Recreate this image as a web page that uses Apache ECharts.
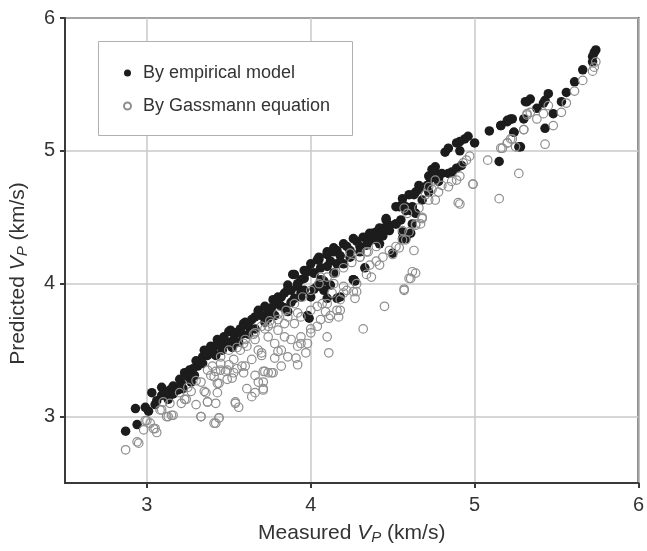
<!DOCTYPE html>
<html>
<head>
<meta charset="utf-8">
<script src="https://cdn.jsdelivr.net/npm/echarts@6/dist/echarts.min.js"></script>
<style>
html,body{margin:0;padding:0;background:#fff;}
#chart{width:647px;height:551px;}
</style>
</head>
<body>
<div id="chart"></div>
<script>
// Filled black circles: predicted by empirical model [measured, predicted]
const empiricalPoints = [
[2.87,2.89],[2.94,2.94],[2.93,3.06],[2.99,3.07],[3.01,3.04],[3.05,3.09],[3.03,3.18],[3.09,3.22],[3.09,3.16],[3.13,3.13],[3.14,3.20],[3.16,3.23],[3.21,3.25],[3.23,3.33],[3.27,3.26],[3.26,3.35],[3.31,3.38],[3.33,3.40],[3.37,3.48],[3.42,3.46],[3.44,3.54],[3.50,3.56],[3.29,3.31],[3.19,3.20],
[3.35,3.50],[3.39,3.53],[3.43,3.58],[3.51,3.65],[3.55,3.63],[3.60,3.71],[3.68,3.80],[3.72,3.83],[3.77,3.88],[3.82,3.90],[3.86,3.99],[3.89,4.07],[3.92,3.98],[3.96,4.04],[3.98,4.09],[4.02,4.08],[4.05,4.18],[4.10,4.22],[4.14,4.24],[4.10,4.13],[4.16,4.15],[4.00,3.90],[4.10,3.89],[3.98,3.76],[3.82,3.83],[3.86,3.79],[3.74,3.74],[3.64,3.73],[3.57,3.66],[3.53,3.58],[3.45,3.53],[3.37,3.46],[3.34,3.40],[3.47,3.60],[3.80,3.86],[3.90,3.89],[3.94,3.93],[4.04,3.98],
[3.96,4.10],[4.00,4.15],[4.05,4.20],[4.10,4.24],[4.14,4.27],[4.20,4.30],[4.26,4.34],[4.32,4.35],[4.36,4.38],[4.42,4.42],[4.46,4.48],[4.48,4.44],[4.52,4.45],[4.45,4.42],[4.40,4.39],[4.52,4.58],[4.56,4.60],[4.60,4.67],[4.64,4.69],[4.66,4.74],[4.72,4.81],[4.76,4.83],[4.58,4.34],[4.56,4.39],[4.26,4.03],[4.18,3.90],[3.96,3.95],[4.06,4.03],[4.02,4.08],[4.61,4.55],[4.64,4.53],
[4.82,4.99],[4.84,5.02],[4.89,5.06],[4.91,5.07],[4.94,5.09],[4.96,5.11],[5.00,5.06],[4.91,5.00],[4.74,4.86],[4.76,4.88],[4.73,4.79],[4.78,4.79],[4.80,4.83],[4.84,4.83],[4.86,4.84],[4.89,4.87],[4.92,4.89],[4.66,4.71],[4.63,4.67],[4.71,4.74],[4.72,4.69],[4.78,4.77],[5.09,5.15],[5.16,5.19],[5.20,5.22],[5.23,5.24],[5.24,5.14],[5.28,5.03],[5.15,4.92],[4.56,4.64],[4.58,4.58],[4.55,4.48],[4.57,4.34],[4.62,4.58],[4.68,4.63],[4.62,4.45],
[5.74,5.76],[5.73,5.74],[5.72,5.71],[5.72,5.67],[5.66,5.61],[5.61,5.52],[5.56,5.44],[5.53,5.37],[5.45,5.43],[5.43,5.38],[5.42,5.36],[5.38,5.32],[5.48,5.28],[5.43,5.17],[5.34,5.39],[5.32,5.37],[5.31,5.37],[5.30,5.24],[5.24,5.14],[5.27,5.03],[5.22,5.24],[5.20,5.23],[5.16,5.19],
[3.37,3.49],[3.43,3.55],[3.50,3.64],[3.53,3.63],[3.59,3.70],[3.68,3.79],[3.74,3.80],[3.80,3.90],[3.81,3.84],[3.86,3.96],[3.90,4.07],[3.94,4.03],[3.98,4.10],[4.04,4.18],[4.10,4.22],[4.16,4.25],[4.22,4.28],[4.28,4.32],[4.34,4.35],[4.38,4.38],[4.44,4.39],[4.46,4.49],[4.52,4.45],[4.54,4.58],[4.58,4.55],[4.16,3.89],[4.26,4.03],[4.33,4.12],[3.99,3.74],[4.08,3.95],[4.12,3.99],[4.42,4.30],[4.50,4.23],[4.57,4.34],
[4.27,4.02],[4.56,4.34],[4.61,4.38],
[3.62,3.68],[3.66,3.75],[3.70,3.76],[3.76,3.82],[3.84,3.93],[3.88,3.95],[3.92,4.00],[4.06,4.12],[4.12,4.17],[4.18,4.21],[4.24,4.25],[4.30,4.28],[4.36,4.32],[3.58,3.62],[3.48,3.55],[3.40,3.50],[3.30,3.42],[3.25,3.30],[3.20,3.28],[3.11,3.18],[3.06,3.12],
[3.52,3.52],[3.56,3.56],[3.62,3.62],[3.66,3.66],[3.72,3.71],[3.78,3.76],[3.84,3.82],[3.88,3.86],[3.94,3.90],[4.02,3.96],[4.08,4.02],[4.14,4.08],[4.20,4.15],[4.24,4.20],[4.30,4.24],[4.34,4.29],[4.40,4.33],[4.44,4.36],[4.48,4.40],[3.28,3.36],[3.34,3.45],[3.46,3.50],[3.16,3.17],[3.22,3.21]
];
// Open grey circles: predicted by Gassmann equation [measured, predicted]
const gassmannPoints = [
[2.87,2.75],[2.94,2.81],[2.95,2.80],[2.99,2.97],[3.02,2.95],[2.98,2.90],[3.05,2.91],[3.06,2.88],[3.09,3.05],[3.13,3.00],[3.16,3.01],[3.14,3.10],[3.10,3.11],[3.21,3.10],[3.24,3.13],[3.27,3.19],[3.30,3.09],[3.33,3.00],[3.36,3.18],[3.37,3.11],[3.42,3.10],[3.43,3.18],[3.44,3.25],[3.44,2.99],[3.42,2.95],[3.33,3.26],[3.39,3.31],[3.42,3.34],[3.48,3.34],[3.50,3.39],[3.53,3.33],[3.55,3.36],[3.54,3.10],[3.56,3.07],
[3.41,3.30],[3.49,3.35],[3.60,3.38],[3.64,3.43],[3.70,3.46],[3.72,3.34],[3.78,3.44],[3.82,3.50],[3.86,3.45],[3.88,3.58],[3.92,3.53],[3.94,3.60],[3.97,3.48],[3.92,3.39],[3.82,3.38],[4.00,3.66],[4.04,3.68],[4.06,3.73],[4.09,3.79],[4.11,3.74],[4.16,3.80],[4.10,3.60],[4.11,3.48],[3.66,3.58],[3.74,3.60],[3.80,3.65],[3.57,3.50],[3.61,3.53],[3.68,3.50],[3.84,3.70],[3.90,3.70],[3.94,3.75],[3.76,3.70],[3.72,3.66],[4.04,3.83],[4.13,3.93],[3.45,3.40],[3.53,3.43],[3.37,3.35],[3.74,3.33],
[4.24,4.23],[4.30,4.20],[4.34,4.24],[4.36,4.14],[4.40,4.17],[4.44,4.20],[4.48,4.25],[4.52,4.28],[4.56,4.33],[4.60,4.39],[4.64,4.44],[4.68,4.50],[4.62,4.09],[4.60,4.04],[4.57,3.96],[4.45,3.83],[4.42,4.14],[4.37,4.05],[4.26,3.94],[4.27,3.89],[4.20,3.98],[4.10,3.85],[4.14,4.00],[4.06,4.05],[4.72,4.73],[4.76,4.63],[4.50,4.22],[4.63,4.25],
[4.76,4.78],[4.80,4.74],[4.84,4.73],[4.86,4.77],[4.89,4.78],[4.91,4.81],[4.93,4.91],[4.95,4.93],[4.97,4.96],[4.99,4.75],[4.90,4.61],[5.08,4.93],[5.16,5.02],[5.20,5.06],[5.23,5.09],[5.25,5.03],[5.30,5.16],[5.32,5.28],[5.27,4.83],[5.15,4.64],[4.72,4.63],[4.66,4.57],[4.68,4.49],[4.59,4.53],[4.64,4.45],[4.67,4.45],[4.74,4.71],[4.70,4.67],[4.78,4.69],[4.57,4.57],[4.56,4.40],
[5.74,5.67],[5.73,5.63],[5.72,5.60],[5.66,5.53],[5.61,5.45],[5.56,5.36],[5.53,5.29],[5.45,5.34],[5.42,5.28],[5.38,5.24],[5.34,5.29],[5.32,5.27],[5.48,5.19],[5.30,5.16],[5.22,5.09],[5.20,5.06],[5.17,5.02],[5.43,5.05],
[4.32,3.66],[4.57,3.95],[4.61,4.04],[4.64,4.08],[4.91,4.60],[4.99,4.75],
[4.28,3.94],[4.20,3.93],[3.98,3.55],[3.80,3.49],[3.76,3.33],[3.68,3.26],[3.71,3.20],[3.61,3.21],[3.58,3.38],[3.45,3.35],[3.43,3.25],[3.59,3.55],[3.66,3.63],[3.74,3.68],[3.80,3.73],[3.86,3.75],[3.92,3.78],[4.00,3.80],[4.07,3.85],[4.12,3.76],[4.18,3.80],[4.17,3.75],[4.18,3.88],[4.22,3.95],[4.28,4.00],[4.34,4.07],[4.54,4.27],[4.58,4.33],[3.84,3.60],[4.00,3.63],[3.94,3.55],[3.70,3.48],[3.78,3.55],
[3.41,2.95],[3.44,2.99],[3.33,3.00],[3.54,3.11],[3.64,3.15],[3.66,3.18],[3.71,3.21],[3.71,3.26],[3.77,3.33],[3.91,3.44],[3.23,3.13],[3.37,3.11],[3.15,3.01],[3.12,3.00],[3.04,2.91],[3.00,2.97],[3.08,3.05],[3.35,3.19],[3.49,3.28],[3.52,3.29],[3.59,3.33],[3.66,3.31],[3.71,3.34],
[3.50,3.50],[3.60,3.58],[3.70,3.68],[3.80,3.77],[3.90,3.85],[4.00,3.95],[4.10,4.05],[4.20,4.12],[4.30,4.20],[4.40,4.28],[3.55,3.52],[3.65,3.62],[3.75,3.72],[3.85,3.80],[3.95,3.90],[4.05,4.00],[4.15,4.08],[4.25,4.16],[4.35,4.24],[3.20,3.18],[3.25,3.22],[3.30,3.27],[3.40,3.38],[3.45,3.45]
];
const xTickValues = [3, 4, 5, 6];
const yTickValues = [3, 4, 5, 6];
const seriesNames = ['By empirical model', 'By Gassmann equation'];

const FONT = "'Liberation Sans', Arial, Helvetica, sans-serif";
const TXT = '#333333';
const AX = '#3a3a3a';
const nameRich = {
  a: {fontSize: 21, color: TXT, fontFamily: FONT},
  v: {fontSize: 21, color: TXT, fontFamily: FONT, fontStyle: 'italic'},
  p: {fontSize: 15, color: TXT, fontFamily: FONT, fontStyle: 'italic', padding: [8, 0, 0, 0]}
};
const yNameRich = {
  a: {fontSize: 21, color: TXT, fontFamily: FONT},
  v: {fontSize: 21, color: TXT, fontFamily: FONT, fontStyle: 'italic'},
  p: {fontSize: 15, color: TXT, fontFamily: FONT, fontStyle: 'italic', padding: [8, 0, 0, 0]},
  s: {width: 46}
};

const chart = echarts.init(document.getElementById('chart'), null, {renderer: 'canvas'});
chart.setOption({
  animation: false,
  backgroundColor: '#ffffff',
  grid: {left: 62, right: 5, top: 18, bottom: 68, show: true, borderColor: AX, borderWidth: 2, backgroundColor: 'transparent'},
  graphic: [{
    type: 'rect', left: 98, top: 41, z: 5,
    shape: {width: 254, height: 94},
    style: {fill: '#ffffff', stroke: '#b0b0b0', lineWidth: 1}
  }],
  legend: {
    orient: 'vertical', left: 118, top: 59, z: 10,
    itemWidth: 21, itemHeight: 7, itemGap: 15, symbolKeepAspect: true,
    textStyle: {fontSize: 18, color: TXT, fontFamily: FONT},
    data: seriesNames
  },
  xAxis: {
    type: 'value', min: 2.5, max: 6, interval: 0.5,
    name: '{a|Measured }{v|V}{p|P}{a| (km/s)}',
    nameLocation: 'middle', nameGap: 39,
    nameTextStyle: {rich: nameRich},
    axisLine: {show: true, lineStyle: {color: AX, width: 2}},
    axisTick: {show: true, inside: false, length: 5, customValues: xTickValues, lineStyle: {color: AX, width: 2}},
    axisLabel: {customValues: xTickValues, fontSize: 20, color: TXT, fontFamily: FONT, margin: 12},
    splitLine: {show: true, lineStyle: {color: '#c8c8c8', width: 1.5}}
  },
  yAxis: {
    type: 'value', min: 2.5, max: 6, interval: 0.5,
    name: '{a|Predicted }{v|V}{p|P}{a| (km/s)}{s|}',
    nameLocation: 'middle', nameGap: 35, nameRotate: 90,
    nameTextStyle: {rich: yNameRich},
    axisLine: {show: true, lineStyle: {color: AX, width: 2}},
    axisTick: {show: true, inside: false, length: 5, customValues: yTickValues, lineStyle: {color: AX, width: 2}},
    axisLabel: {customValues: yTickValues, fontSize: 20, color: TXT, fontFamily: FONT, margin: 10},
    splitLine: {show: true, lineStyle: {color: '#c8c8c8', width: 1.5}}
  },
  series: [
    {
      name: seriesNames[0], type: 'scatter', data: empiricalPoints,
      symbol: 'circle', symbolSize: 9.5, z: 2,
      itemStyle: {color: '#1c1c1c', borderColor: '#1c1c1c', borderWidth: 0, opacity: 1},
      emphasis: {disabled: true}
    },
    {
      name: seriesNames[1], type: 'scatter', data: gassmannPoints,
      symbol: 'circle', symbolSize: 8.5, z: 3,
      itemStyle: {color: 'rgba(255,255,255,0)', borderColor: '#8e8e8e', borderWidth: 1.2, opacity: 1},
      emphasis: {disabled: true}
    }
  ]
});
</script>
</body>
</html>
